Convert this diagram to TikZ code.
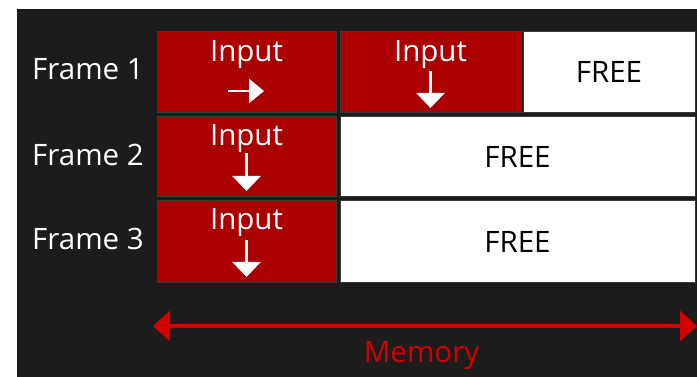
\documentclass[tikz,border=0pt]{standalone}
\usepackage{fontspec}
\setmainfont{Open Sans}
\usetikzlibrary{arrows.meta}
\definecolor{bg}{HTML}{1C1C1C}
\definecolor{cellred}{HTML}{AA0000}
\definecolor{cellborder}{HTML}{3A3A3A}
\definecolor{memred}{HTML}{D40000}
\begin{document}
\begin{tikzpicture}[x=1pt,y=-1pt,
  redcell/.style={fill=cellred,draw=cellborder,line width=1pt},
  freecell/.style={fill=white,draw=cellborder,line width=1pt},
  lbl/.style={font=\fontsize{29.5}{32}\selectfont,inner sep=0pt,anchor=base},
  whitelbl/.style={lbl,text=white},
  inarrow/.style={draw=white,line width=2.4pt,-{Triangle[length=15pt,width=28pt]}},
  memarrow/.style={draw=memred,line width=3.5pt,{Triangle[length=17pt,width=30pt]}-{Triangle[length=17pt,width=30pt]}}
]
\useasboundingbox (0,0) rectangle (697,377);
\fill[white] (0,0) rectangle (697,377);
\fill[bg] (17,9) rectangle (697,377);
% row 1
\draw[redcell] (157,32) rectangle (336,113);
\draw[redcell] (340,32) rectangle (521,113);
\draw[freecell] (523,32) rectangle (695,113);
% row 2
\draw[redcell] (157,117) rectangle (336,197);
\draw[freecell] (340,117) rectangle (695,197);
% row 3
\draw[redcell] (157,201) rectangle (336,282);
\draw[freecell] (340,201) rectangle (695,282);
% frame labels
\node[whitelbl] (f1) at (88,80) {Frame 1};
\node[whitelbl] (f2) at (88,166) {Frame 2};
\node[whitelbl] (f3) at (88,250) {Frame 3};
% inputs
\node[whitelbl] (i11) at (246.5,62) {Input};
\node[whitelbl] (i12) at (430.5,62) {Input};
\node[whitelbl] (i21) at (246.5,146) {Input};
\node[whitelbl] (i31) at (246.5,230) {Input};
% free
\node[lbl] (r1free) at (609,83) {FREE};
\node[lbl] (r2free) at (517.5,168) {FREE};
\node[lbl] (r3free) at (517.5,252) {FREE};
% inner arrows
\coordinate (a11s) at (228,91); \coordinate (a11e) at (264,91);
\draw[inarrow,-{Triangle[length=15pt,width=24pt]}] (a11s) -- (a11e);
\coordinate (a12s) at (430.5,71); \coordinate (a12e) at (430.5,108);
\draw[inarrow] (a12s) -- (a12e);
\coordinate (a21s) at (246.5,153); \coordinate (a21e) at (246.5,191);
\draw[inarrow] (a21s) -- (a21e);
\coordinate (a31s) at (246.5,240); \coordinate (a31e) at (246.5,277);
\draw[inarrow] (a31s) -- (a31e);
% memory arrow
\coordinate (ml) at (153,326); \coordinate (mr) at (697,326);
\draw[memarrow] (ml) -- (mr);
\node[lbl,text=memred] (mem) at (421.5,362) {Memory};
\end{tikzpicture}
\end{document}
